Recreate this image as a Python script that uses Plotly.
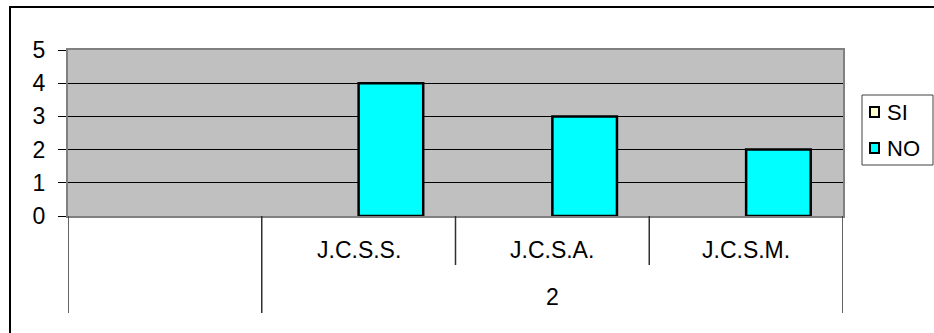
import plotly.graph_objects as go

# Two-level category axis: group row and item row
groups = ["", "2", "2", "2"]
items = ["", "J.C.S.S.", "J.C.S.A.", "J.C.S.M."]

series_names = ["SI", "NO"]
si_values = [None, 0, 0, 0]
no_values = [None, 4, 3, 2]
series_colors = ["#FFFFCC", "#00FFFF"]

y_ticks = [0, 1, 2, 3, 4, 5]

FONT = "Arial, Liberation Sans, sans-serif"

W, H = 934, 333
L, R, T, B = 68, 91, 50, 117
pw, ph = W - L - R, H - T - B


def px_x(v):
    return (v - L) / pw


def px_y(v):
    return (H - B - v) / ph


idx = list(range(len(items)))

fig = go.Figure()
fig.add_trace(go.Bar(
    name=series_names[0], x=idx, y=si_values,
    marker=dict(color=series_colors[0], line=dict(color="black", width=0)),
    showlegend=False,
))
fig.add_trace(go.Bar(
    name=series_names[1], x=idx, y=no_values,
    marker=dict(color=series_colors[1], line=dict(color="black", width=2.5)),
    showlegend=False,
))

fig.update_layout(
    width=W, height=H,
    margin=dict(l=L, r=R, t=T, b=B),
    paper_bgcolor="white",
    plot_bgcolor="#C0C0C0",
    barmode="group",
    bargap=1 / 3,
    bargroupgap=0,
    font=dict(family=FONT, size=22, color="black"),
    showlegend=False,
    xaxis=dict(
        range=[-0.5, len(items) - 0.5],
        showticklabels=False, ticks="",
        showline=True, linecolor="#808080", linewidth=2, mirror=True,
        showgrid=False, zeroline=False,
    ),
    yaxis=dict(
        range=[0, 5], tickvals=y_ticks, ticktext=[str(v) for v in y_ticks],
        showgrid=True, gridcolor="black", gridwidth=1,
        showline=True, linecolor="#808080", linewidth=2, mirror=True,
        ticks="outside", ticklen=8, tickcolor="black", tickwidth=1,
        ticklabelstandoff=8,
        tickfont=dict(size=23),
        zeroline=False,
    ),
)

shapes = []
annotations = []

# Category boundaries: full-height dividers at group edges, short ticks inside groups
y_axis = px_y(216)
y_short = px_y(265)
y_full = px_y(313)
for b in range(len(items) + 1):
    edge = b in (0, len(items)) or groups[b - 1] != groups[b]
    shapes.append(dict(
        type="line", xref="x", yref="paper",
        x0=b - 0.5, x1=b - 0.5, y0=y_axis, y1=y_full if edge else y_short,
        line=dict(color="#303030", width=1.5),
    ))

# Item labels (first row)
for i, lab in enumerate(items):
    if lab:
        annotations.append(dict(
            x=i, y=px_y(250), xref="x", yref="paper", text=lab,
            showarrow=False, font=dict(size=23), xanchor="center", yanchor="middle",
        ))

# Group labels (second row)
seen = []
for g in groups:
    if g and g not in seen:
        seen.append(g)
        members = [i for i, gg in enumerate(groups) if gg == g]
        annotations.append(dict(
            x=sum(members) / len(members), y=px_y(297), xref="x", yref="paper",
            text=g, showarrow=False, font=dict(size=23),
            xanchor="center", yanchor="middle",
        ))

# Outer chart frame (only its left and top edges fall inside the page)
shapes.append(dict(
    type="rect", xref="paper", yref="paper",
    x0=px_x(10), x1=px_x(1100), y0=px_y(500), y1=px_y(7),
    line=dict(color="black", width=2), fillcolor="rgba(0,0,0,0)", layer="below",
))

# Legend box with swatches
shapes.append(dict(
    type="rect", xref="paper", yref="paper",
    x0=px_x(862), x1=px_x(933), y0=px_y(165), y1=px_y(95),
    line=dict(color="#404040", width=1), fillcolor="white",
))
for k, (name, col) in enumerate(zip(series_names, series_colors)):
    yc = 112 + 36 * k
    shapes.append(dict(
        type="rect", xref="paper", yref="paper",
        x0=px_x(870), x1=px_x(879), y0=px_y(yc + 5), y1=px_y(yc - 5),
        line=dict(color="black", width=2), fillcolor=col,
    ))
    annotations.append(dict(
        x=px_x(885), y=px_y(yc), xref="paper", yref="paper", text=name,
        showarrow=False, font=dict(size=22), xanchor="left", yanchor="middle",
    ))

fig.update_layout(shapes=shapes, annotations=annotations)

fig.write_html("out.html")
